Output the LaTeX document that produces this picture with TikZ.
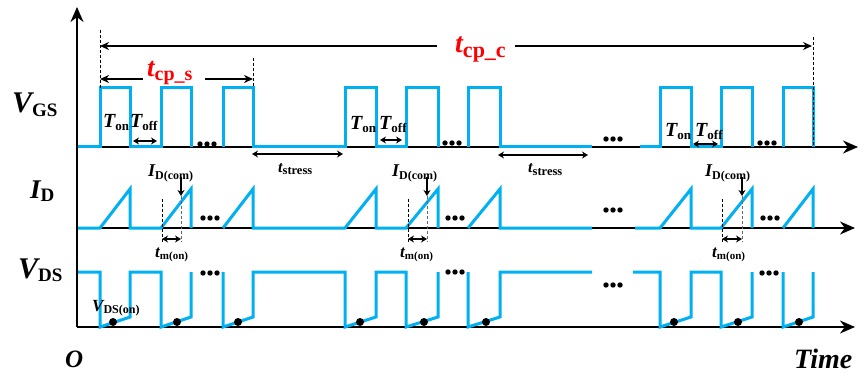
\documentclass[tikz,border=0pt]{standalone}
\usepackage{fontspec}
\setmainfont{Liberation Serif}
\usetikzlibrary{arrows.meta}
\definecolor{wave}{RGB}{0,176,240}
\newcommand{\sig}[4]{{\fontsize{#1}{#1}\selectfont\bfseries\itshape #3}{\fontsize{#2}{#2}\selectfont\bfseries\raisebox{-0.2em}{#4}}}
\begin{document}
\begin{tikzpicture}[x=1pt,y=-1pt,
  axis/.style={line width=2pt,-{Stealth[length=15pt,width=13pt]}},
  wv/.style={wave,line width=3pt},
  dim/.style={line width=1.5pt,{Stealth[length=6pt,width=7pt]}-{Stealth[length=6pt,width=7pt]}},
  cparrow/.style={line width=1.5pt},
  guide/.style={line width=0.7pt,dash pattern=on 3pt off 2pt},
  lbl/.style={anchor=base west,inner sep=0pt},
  tickarrow/.style={line width=1.5pt,-{Stealth[length=6pt,width=7pt]}}]
\useasboundingbox (0,0) rectangle (864,374);
% axes
\draw[axis] (77,327) -- (77,7);
\draw[axis] (77,147) -- (858,147);
\draw[axis] (77,228) -- (855,228);
\draw[axis] (77,327) -- (855,327);
% labels of axes
\node[lbl] (vgs) at (12,113) {\sig{30}{19}{V}{GS}};
\node[lbl] (id) at (30,198) {\sig{27}{19}{I}{D}};
\node[lbl] (vds) at (18,278) {\sig{30}{19}{V}{DS}};
\node[lbl] (orig) at (65,367) {\fontsize{25}{25}\selectfont\bfseries\itshape O};
\node[lbl] (time) at (794,368) {\fontsize{28}{28}\selectfont\bfseries\itshape Time};
% ---- VGS ----
\draw[wv] (78,147) -- (100,147) -- (100,88) -- (130,88) -- (130,147) -- (161,147) -- (161,88) -- (191,88) -- (191,147);
\draw[wv] (223,147) -- (223,88) -- (253,88) -- (253,147) -- (345,147) -- (345,88) -- (376,88) -- (376,147) -- (406,147) -- (406,88) -- (438,88) -- (438,147);
\draw[wv] (468,147) -- (468,88) -- (500,88) -- (500,147) -- (592,147);
\draw[wv] (640,147) -- (660,147) -- (660,88) -- (691,88) -- (691,147) -- (721,147) -- (721,88) -- (752,88) -- (752,147);
\draw[wv] (783,147) -- (783,88) -- (813,88) -- (813,147);
% ---- ID ----
\draw[wv] (78,228) -- (100,228) -- (130,189) -- (130,228) -- (161,228) -- (191,189) -- (191,228);
\draw[wv] (223,228) -- (253,189) -- (253,228) -- (345,228) -- (376,189) -- (376,228) -- (406,228) -- (438,189) -- (438,228);
\draw[wv] (468,228) -- (500,189) -- (500,228) -- (592,228);
\draw[wv] (635,228) -- (660,228) -- (691,189) -- (691,228) -- (721,228) -- (752,189) -- (752,228);
\draw[wv] (783,228) -- (813,189) -- (813,228);
% ---- VDS ----
\draw[wv] (78,272) -- (100,272) -- (100,327) -- (130,317) -- (130,272) -- (161,272) -- (161,327) -- (191,317) -- (191,272);
\draw[wv] (223,272) -- (223,327) -- (253,317) -- (253,272) -- (345,272) -- (345,327) -- (376,317) -- (376,272) -- (406,272) -- (406,327) -- (438,317) -- (438,272);
\draw[wv] (468,272) -- (468,327) -- (500,317) -- (500,272) -- (592,272);
\draw[wv] (633,272) -- (660,272) -- (660,327) -- (691,317) -- (691,272) -- (721,272) -- (721,327) -- (752,317) -- (752,272);
\draw[wv] (783,272) -- (783,327) -- (813,317) -- (813,272);
% on-state dots
\foreach \x in {113,177,238,360,424,486,674,738,799}
  \fill (\x,322) circle (4pt);
% ellipsis dots
\foreach \cx/\cy in {207/144,452/143,613/139,767/143,210/218,455/218,613/210,770/218,210/273,455/272,613/285,769/273}
  \foreach \dx in {-7,0,7}
    \fill (\cx+\dx,\cy) circle (2.7pt);
% guides for tcp
\draw[guide] (100,30) -- (100,88);
\draw[guide] (253,58) -- (253,88);
\draw[guide] (813,37) -- (813,147);
% tcp_c
\coordinate (cL) at (100,46); \coordinate (cR) at (812,46);
\draw[cparrow,{Stealth[length=9pt,width=8pt]}-] (cL) -- (437,46);
\draw[cparrow,-{Stealth[length=9pt,width=8pt]}] (515,46) -- (cR);
\node[lbl,red] (tcpc) at (455,53) {\sig{28}{22}{t}{cp\_c}};
% tcp_s
\coordinate (sL) at (100,79); \coordinate (sR) at (253,79);
\draw[cparrow,{Stealth[length=9pt,width=8pt]}-] (sL) -- (143,79);
\draw[cparrow,-{Stealth[length=9pt,width=8pt]}] (205,79) -- (sR);
\node[lbl,red] (tcps) at (147,77) {\sig{27}{20}{t}{cp\_s}};
% Ton / Toff
\node[lbl] (ton1) at (103,128) {\sig{20}{13}{T}{on}};
\node[lbl] (toff1) at (130,128) {\sig{20}{13}{T}{off}};
\node[lbl] (ton2) at (350,130) {\sig{20}{13}{T}{on}};
\node[lbl] (toff2) at (379,130) {\sig{20}{13}{T}{off}};
\node[lbl] (ton3) at (665,137) {\sig{20}{13}{T}{on}};
\node[lbl] (toff3) at (695,137) {\sig{20}{13}{T}{off}};
\draw[dim] (133,141) -- (157,141);
\draw[dim] (380,140) -- (402,140);
\draw[dim] (693,144) -- (718,144);
% tstress
\draw[dim] (252,154) -- (343,154);
\draw[dim] (498,155) -- (588,155);
\node[lbl] (ts1) at (278,172) {\sig{16}{12.5}{t}{stress}};
\node[lbl] (ts2) at (528,173) {\sig{16}{12.5}{t}{stress}};
% ID(com) and tm(on)
\foreach \a/\b/\lx/\tx in {162/181/148/155,408/427/392/400,722/742/705/712}{
  \draw[guide] (\a,199) -- (\a,242);
  \draw[guide,black!60] (\b,196) -- (\b,242);
  \draw[tickarrow] (\b,177) -- (\b,196);
  \draw[dim] (\a,239) -- (\b,239);
  \node[lbl] at (\lx,177) {\sig{18}{12}{I}{D(com)}};
  \node[lbl] at (\tx,257) {\sig{17}{11}{t}{m(on)}};
}
% VDS(on)
\node[lbl] (vdson) at (92,311) {\sig{17}{12}{V}{DS(on)}};
\end{tikzpicture}
\end{document}
